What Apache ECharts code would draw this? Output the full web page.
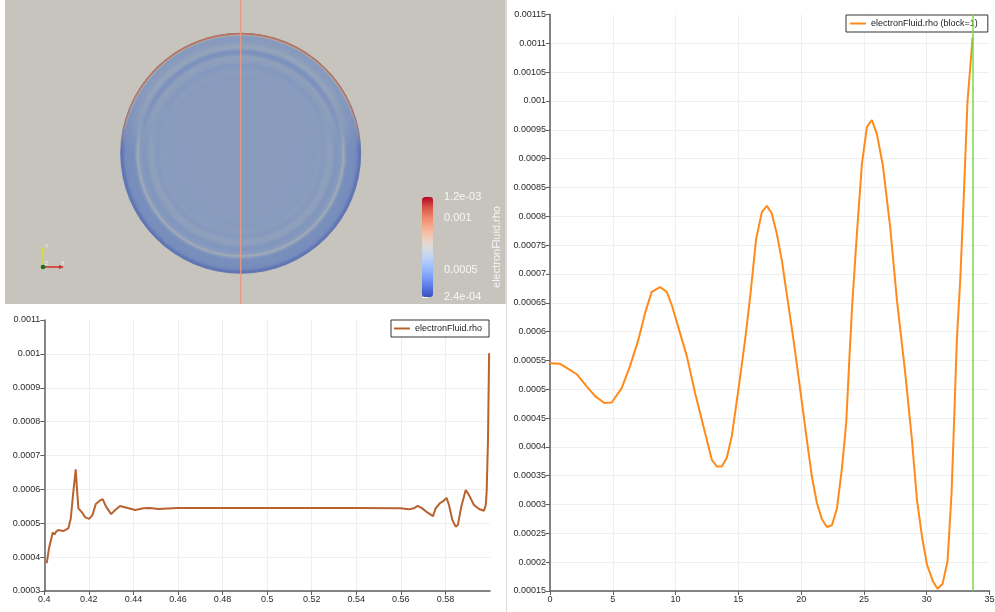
<!DOCTYPE html>
<html>
<head>
<meta charset="utf-8">
<script src="https://cdn.jsdelivr.net/npm/echarts@6/dist/echarts.min.js"></script>
<style>
  html, body { margin: 0; padding: 0; background: #ffffff; }
  #main { width: 995px; height: 612px; }
</style>
</head>
<body>
<div id="main"></div>
<script>
// Density sampled along the vertical probe line through the disc
const lineX = [0.4011, 0.4021, 0.4038, 0.4046, 0.4053, 0.4062, 0.407, 0.4085, 0.4108, 0.4119,
  0.4128, 0.4141, 0.4147, 0.4153, 0.4168, 0.4183, 0.4201, 0.4216, 0.4231, 0.4247,
  0.4262, 0.4277, 0.43, 0.4318, 0.434, 0.437, 0.4408, 0.4445, 0.4475, 0.4512,
  0.46, 0.48, 0.5, 0.52, 0.54, 0.5599, 0.5636, 0.5658, 0.5676, 0.5696,
  0.5719, 0.5744, 0.5756, 0.5775, 0.5793, 0.5805, 0.5816, 0.5831, 0.5846, 0.5856,
  0.5871, 0.5891, 0.5906, 0.5928, 0.5951, 0.5973, 0.5981, 0.5985, 0.5991, 0.5996];
const lineRho = [0.000382, 0.000426, 0.000473, 0.000467, 0.000475, 0.00048, 0.000477, 0.000477, 0.000485, 0.000515,
  0.000578, 0.000659, 0.000598, 0.000544, 0.000533, 0.000518, 0.000513, 0.000524, 0.000557, 0.000566,
  0.000571, 0.000549, 0.000527, 0.000539, 0.000551, 0.000546, 0.000539, 0.000544, 0.000545, 0.000542,
  0.000545, 0.000545, 0.000545, 0.000545, 0.000545, 0.000544, 0.000541, 0.000544, 0.000551, 0.000544,
  0.000532, 0.000521, 0.000544, 0.000559, 0.000567, 0.000575, 0.000554, 0.00051, 0.00049, 0.000495,
  0.000549, 0.000598, 0.000583, 0.000554, 0.000542, 0.000537, 0.000554, 0.000593, 0.000746, 0.001002];

// Density of block 1 against radius
const blockX = [0, 0.8, 1.33, 2.13, 2.92, 3.59, 4.33, 4.91, 5.71, 6.37,
  7.04, 7.57, 8.1, 8.76, 9.3, 9.7, 10.2, 10.9, 11.55, 12.35,
  12.88, 13.28, 13.68, 14.08, 14.48, 15.0, 15.54, 15.94, 16.41, 16.87,
  17.27, 17.66, 18.06, 18.46, 18.99, 19.39, 19.92, 20.45, 20.85, 21.25,
  21.65, 22.05, 22.45, 22.85, 23.24, 23.59, 23.85, 24.06, 24.44, 24.84,
  25.24, 25.63, 26.03, 26.51, 27.09, 27.63, 28.29, 28.82, 29.22, 29.62,
  30.02, 30.49, 30.86, 31.26, 31.66, 31.98, 32.22, 32.4, 32.67, 32.94,
  33.25, 33.47, 33.65];
const blockRho = [0.000545, 0.000544, 0.000537, 0.000526, 0.000505, 0.000488, 0.000476, 0.000477, 0.000502, 0.00054,
  0.000586, 0.000632, 0.000669, 0.000677, 0.000669, 0.000646, 0.000609, 0.000557, 0.000494, 0.000424,
  0.000378, 0.000366, 0.000366, 0.000381, 0.000419, 0.000499, 0.000586, 0.00066, 0.00076, 0.000807,
  0.000818, 0.000805, 0.00077, 0.000724, 0.000645, 0.000586, 0.0005, 0.000413, 0.000349, 0.000303,
  0.000275, 0.000261, 0.000264, 0.000293, 0.000361, 0.000442, 0.000557, 0.000644, 0.00077, 0.000891,
  0.000955, 0.000967, 0.000943, 0.000888, 0.000781, 0.000654, 0.000528, 0.000413, 0.000309, 0.000245,
  0.000196, 0.000167, 0.000154, 0.000162, 0.000202, 0.00032, 0.00047, 0.000586, 0.00069, 0.000828,
  0.001, 0.001059, 0.00111];

// Current position marker on the block plot
const cursorX = 33.65;

// Colour legend of the 3D view
const rhoRange = [0.00024, 0.0012];
const legendTicks = [0.00024, 0.0005, 0.001, 0.0012];
const legendTickLabels = ['2.4e-04', '0.0005', '0.001', '1.2e-03'];
const coolToWarm = ['#3b4cc0', '#5977e3', '#7b9ff9', '#9ebeff', '#c0d4f5', '#dddcdc',
  '#f2cbb7', '#f7ac8e', '#ee8468', '#d65244', '#b40426'];

// Disc geometry in probe coordinates
const discCenter = 0.5;
const discRadius = 0.1;

const lineName = 'electronFluid.rho';
const blockName = 'electronFluid.rho (block=1)';

const FONT = 'Liberation Sans';
const axisColor = '#5e5e5e';
const gridColor = '#efefef';

function zip(a, b) { return a.map((v, i) => [v, b[i]]); }
function fmt(v) { return String(+(+v).toFixed(6)); }

// Concentric rings of the disc built from one half of the probe profile
function rings(side) {
  const pts = [];
  lineX.forEach((x, i) => {
    const r = (x - discCenter) * side;
    if (r >= -1e-9) pts.push([Math.max(r, 0), lineRho[i]]);
  });
  pts.sort((a, b) => a[0] - b[0]);
  return pts.map((p, i) => {
    const r0 = i === 0 ? 0 : (pts[i - 1][0] + p[0]) / 2;
    const r1 = i === pts.length - 1 ? discRadius : (p[0] + pts[i + 1][0]) / 2;
    return [r0, r1, p[1]];
  });
}
const discData = rings(-1).map(d => d.concat(0)).concat(rings(1).map(d => d.concat(1)));

// Surface lighting of the rendered disc
function lit(c) {
  let p = null;
  if (echarts.color && echarts.color.parse) p = echarts.color.parse(c);
  if (!p) return [130, 150, 190];
  return [Math.round(p[0] * 0.7 + 22), Math.round(p[1] * 0.7 + 20), Math.round(p[2] * 0.66 + 22)];
}

const chart = echarts.init(document.getElementById('main'), null, { renderer: 'canvas' });

function valueAxis(extra) {
  return Object.assign({
    type: 'value',
    axisLine: { show: true, onZero: false, lineStyle: { color: axisColor, width: 1.5 } },
    axisTick: { show: true, length: 4, lineStyle: { color: axisColor, width: 1 } },
    axisLabel: { color: '#2a2a2a', fontSize: 9, fontFamily: FONT, margin: 4, formatter: fmt },
    splitLine: { show: true, showMaxLine: false, lineStyle: { color: gridColor, width: 1 } }
  }, extra);
}

const legendBase = {
  orient: 'horizontal',
  icon: 'rect',
  itemWidth: 16,
  itemHeight: 2,
  selectedMode: false,
  backgroundColor: '#ffffff',
  borderColor: '#333333',
  borderWidth: 1,
  borderRadius: 0,
  textStyle: { fontSize: 9, color: '#222', fontFamily: FONT, lineHeight: 11 }
};

const option = {
  animation: false,
  backgroundColor: '#ffffff',
  textStyle: { fontFamily: FONT },
  graphic: [
    { type: 'rect', silent: true, z: -10, shape: { x: 5, y: 0, width: 500.7, height: 304 }, style: { fill: '#c7c4bd' } },
    { type: 'line', silent: true, z: -5, shape: { x1: 506.5, y1: 0, x2: 506.5, y2: 612 }, style: { stroke: '#dcdad6', lineWidth: 1 } },
    { type: 'line', silent: true, z: 100, shape: { x1: 240.7, y1: 0, x2: 240.7, y2: 304 }, style: { stroke: '#eb9a80', lineWidth: 1.2 } },
    // orientation axes
    { type: 'line', silent: true, z: 100, shape: { x1: 43, y1: 267, x2: 43, y2: 250 }, style: { stroke: '#dcdc30', lineWidth: 1.5 } },
    { type: 'polygon', silent: true, z: 100, shape: { points: [[41, 251], [45, 251], [43, 246]] }, style: { fill: '#dcdc30' } },
    { type: 'line', silent: true, z: 100, shape: { x1: 43, y1: 267, x2: 60, y2: 267 }, style: { stroke: '#d42a2a', lineWidth: 1.5 } },
    { type: 'polygon', silent: true, z: 100, shape: { points: [[59, 265], [59, 269], [64, 267]] }, style: { fill: '#d42a2a' } },
    { type: 'circle', silent: true, z: 101, shape: { cx: 43, cy: 267, r: 2.3 }, style: { fill: '#1d6b1d' } },
    { type: 'text', silent: true, z: 100, style: { x: 45, y: 244, text: 'Y', fontSize: 5, fill: '#f4f4f4', fontFamily: FONT } },
    { type: 'text', silent: true, z: 100, style: { x: 61, y: 261, text: 'X', fontSize: 5, fill: '#f4f4f4', fontFamily: FONT } },
    { type: 'text', silent: true, z: 100, style: { x: 45, y: 261, text: 'Z', fontSize: 5, fill: '#f4f4f4', fontFamily: FONT } }
  ],
  grid: [
    { left: 44.3, top: 320, width: 445.7, height: 271, outerBoundsMode: 'none' },
    { left: 550, top: 14.5, width: 439.5, height: 576.5, outerBoundsMode: 'none' },
    { left: 120.7, top: 33.3, width: 240, height: 240, outerBoundsMode: 'none' },
    { left: 422, top: 197, width: 11, height: 100, outerBoundsMode: 'none' }
  ],
  xAxis: [
    valueAxis({ gridIndex: 0, min: 0.4, max: 0.6, interval: 0.02,
      axisLabel: { color: '#2a2a2a', fontSize: 9, fontFamily: FONT, margin: 4, formatter: fmt, showMaxLabel: false } }),
    valueAxis({ gridIndex: 1, min: 0, max: 35, interval: 5 }),
    { gridIndex: 2, type: 'value', min: 0.4, max: 0.6, show: false },
    { gridIndex: 3, type: 'value', min: 0, max: 1, show: false }
  ],
  yAxis: [
    valueAxis({ gridIndex: 0, min: 0.0003, max: 0.0011, interval: 0.0001 }),
    valueAxis({ gridIndex: 1, min: 0.00015, max: 0.00115, interval: 0.00005 }),
    { gridIndex: 2, type: 'value', min: 0.4, max: 0.6, show: false },
    {
      gridIndex: 3, type: 'value', position: 'right', min: rhoRange[0], max: rhoRange[1],
      axisLine: { show: false },
      splitLine: { show: false },
      axisTick: { show: true, length: 6, customValues: legendTicks, lineStyle: { color: '#f4f4f4', width: 1 } },
      axisLabel: {
        customValues: legendTicks, margin: 11, fontSize: 11, color: '#f6f6f6', fontFamily: FONT,
        formatter: v => {
          const i = legendTicks.findIndex(t => Math.abs(t - v) < 1e-9);
          return i < 0 ? '' : legendTickLabels[i];
        }
      },
      name: lineName, nameLocation: 'middle', nameGap: 58,
      nameTextStyle: { color: '#f4f4f4', fontSize: 11, fontFamily: FONT }
    }
  ],
  visualMap: [{
    type: 'continuous',
    min: rhoRange[0], max: rhoRange[1],
    dimension: 2,
    seriesIndex: 2,
    calculable: false,
    hoverLink: false,
    inRange: { color: coolToWarm },
    left: 422, top: 197,
    itemWidth: 11, itemHeight: 100,
    padding: 0,
    text: null
  }],
  legend: [
    Object.assign({}, legendBase, { data: [lineName], left: 391, top: 320, padding: [3, 7, 3, 3] }),
    Object.assign({}, legendBase, { data: [blockName], left: 846, top: 15, padding: [3, 10, 3, 4] })
  ],
  series: [
    {
      name: lineName, type: 'line', xAxisIndex: 0, yAxisIndex: 0,
      data: zip(lineX, lineRho), symbol: 'none', smooth: false,
      lineStyle: { color: '#b9622f', width: 2 }, itemStyle: { color: '#b9622f' },
      silent: true
    },
    {
      name: blockName, type: 'line', xAxisIndex: 1, yAxisIndex: 1,
      data: zip(blockX, blockRho), symbol: 'none', smooth: false,
      lineStyle: { color: '#ff8a1a', width: 2 }, itemStyle: { color: '#ff8a1a' },
      silent: true,
      markLine: {
        silent: true, symbol: 'none', label: { show: false },
        lineStyle: { color: '#78da4a', width: 1.5, type: 'solid' },
        data: [{ xAxis: cursorX }]
      }
    },
    {
      name: 'disc', type: 'custom', xAxisIndex: 2, yAxisIndex: 2,
      silent: true, clip: false,
      data: discData,
      renderItem: function (params, api) {
        const c = api.coord([discCenter, discCenter]);
        const r0 = api.size([api.value(0), 0])[0];
        const r1 = api.size([api.value(1), 0])[0];
        const upper = api.value(3) === 1;
        const rgb = lit(api.visual('color'));
        const solid = 'rgb(' + rgb.join(',') + ')';
        let fill = solid;
        if (upper) {
          fill = {
            type: 'linear', x: 0, y: 0, x2: 0, y2: 1,
            colorStops: [
              { offset: 0, color: solid },
              { offset: 0.4, color: solid },
              { offset: 0.95, color: 'rgba(' + rgb.join(',') + ',0)' },
              { offset: 1, color: 'rgba(' + rgb.join(',') + ',0)' }
            ]
          };
        }
        return {
          type: 'sector',
          z2: upper ? 10 : 0,
          shape: {
            cx: c[0], cy: c[1], r0: r0, r: r1,
            startAngle: upper ? Math.PI : 0,
            endAngle: 2 * Math.PI,
            clockwise: true
          },
          style: { fill: fill, stroke: fill, lineWidth: 0.9 }
        };
      }
    }
  ]
};

chart.setOption(option);
</script>
</body>
</html>
